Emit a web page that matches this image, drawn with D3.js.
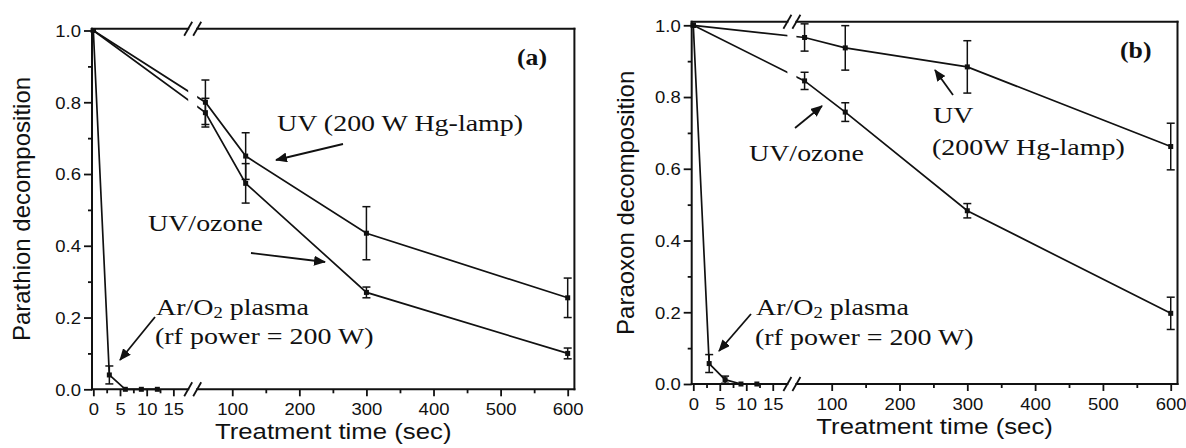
<!DOCTYPE html>
<html>
<head>
<meta charset="utf-8">
<script src="https://cdn.jsdelivr.net/npm/d3@7"></script>
<style>
  body { margin: 0; background: #fff; }
  svg { display: block; }
  .note { font-family: "Liberation Serif", "Times New Roman", serif; font-size: 24px; fill: #111; }
  .panel_tag { font-family: "Liberation Serif", "Times New Roman", serif; font-size: 23px; font-weight: bold; fill: #111; }
  .axis_title { font-family: "Liberation Sans", Arial, sans-serif; font-size: 23px; fill: #111; }
</style>
</head>
<body>
<script>

// values (decomposition ratio vs treatment time in sec)
var uv_times = [0, 60, 120, 300, 600]
var plasma_times = [0, 3, 6, 9, 12]

// panel (a): parathion
var uv_a = [1.0, 0.80, 0.65, 0.435, 0.255]
var uv_a_err = [0, 0.062, 0.065, 0.074, 0.055]
var ozone_a = [1.0, 0.771, 0.574, 0.27, 0.10]
var ozone_a_err = [0, 0.04, 0.055, 0.015, 0.015]
var plasma_a = [1.0, 0.04, 0, 0, 0]
var plasma_a_err = [0, 0.025, 0, 0, 0]

// panel (b): paraoxon
var uv_b = [1.0, 0.966, 0.937, 0.884, 0.662]
var uv_b_err = [0, 0.038, 0.062, 0.073, 0.065]
var ozone_b = [1.0, 0.845, 0.758, 0.483, 0.197]
var ozone_b_err = [0, 0.024, 0.026, 0.02, 0.045]
var plasma_b = [1.0, 0.057, 0.012, 0, 0]
var plasma_b_err = [0, 0.025, 0.01, 0, 0]

// ticks
var x_ticks = [0, 5, 10, 15, 100, 200, 300, 400, 500, 600]
var x_minor = [2.5, 7.5, 12.5, 150, 250, 350, 450, 550]
var y_ticks = [0, 0.2, 0.4, 0.6, 0.8, 1.0]
var y_minor = [0.1, 0.3, 0.5, 0.7, 0.9]

var svg_width = 1186
var svg_height = 448

// the source picture is a bit wider than tall, so text is stretched sideways
var stretch = 1.12
var note_stretch = 1.165

var svg = d3.select("body")
  .append("svg")
  .attr("width", svg_width)
  .attr("height", svg_height)

var defs = svg.append("defs")
defs.append("marker")
  .attr("id", "arrow")
  .attr("viewBox", "0 0 12 10")
  .attr("refX", 11)
  .attr("refY", 5)
  .attr("markerWidth", 12)
  .attr("markerHeight", 10)
  .attr("markerUnits", "userSpaceOnUse")
  .attr("orient", "auto")
  .append("path")
  .attr("d", "M0,0 L12,5 L0,10 z")
  .attr("fill", "#111")

/*
 * Draws one panel with a broken time axis: 0-17.5 s on the left piece,
 * 50-610 s on the right piece.
 */
function draw_panel(p){

  var x = d3.scaleLinear()
    .domain([p.x_start, 17.5, 50, 610])
    .range([p.left, p.seg1_end, p.seg2_start, p.right])

  var y = d3.scaleLinear()
    .domain([0, p.y_top])
    .range([p.bottom, p.top])

  var g = svg.append("g")

  var line = d3.line()
    .x(function(d) { return x(d[0]) })
    .y(function(d) { return y(d[1]) })

  // series
  p.series.forEach(function(s){
    var pts = s.times.map(function(t, i){ return [t, s.values[i], s.errors[i]] })

    g.append("path")
      .datum(pts)
      .attr("d", line)
      .attr("fill", "none")
      .attr("stroke", "#111")
      .attr("stroke-width", 1.7)

    // error bars
    var bars = pts.filter(function(d){ return d[2] > 0 })
    bars.forEach(function(d){
      var cx = x(d[0])
      var y1 = y(d[1] + d[2])
      var y2 = y(d[1] - d[2])
      g.append("line").attr("x1", cx).attr("x2", cx).attr("y1", y1).attr("y2", y2)
        .attr("stroke", "#111").attr("stroke-width", 1.5)
      g.append("line").attr("x1", cx - 4).attr("x2", cx + 4).attr("y1", y1).attr("y2", y1)
        .attr("stroke", "#111").attr("stroke-width", 1.5)
      g.append("line").attr("x1", cx - 4).attr("x2", cx + 4).attr("y1", y2).attr("y2", y2)
        .attr("stroke", "#111").attr("stroke-width", 1.5)
    })

    // square markers
    g.selectAll(null)
      .data(pts)
      .enter()
      .append("rect")
      .attr("x", function(d){ return x(d[0]) - 2.5 })
      .attr("y", function(d){ return y(d[1]) - 2.5 })
      .attr("width", 5)
      .attr("height", 5)
      .attr("fill", "#111")
  })

  // white gap where the lines cross the axis break
  var break_c = (x(17.5) + x(50)) / 2
  g.append("rect")
    .attr("x", break_c - 4.5)
    .attr("y", p.top + 2)
    .attr("width", 9)
    .attr("height", p.bottom - p.top - 4)
    .attr("fill", "#fff")

  // frame
  var frame = [
    [p.left, p.bottom, p.left, p.top],
    [p.right, p.bottom, p.right, p.top],
    [p.left, p.bottom, break_c - 4.5, p.bottom],
    [break_c + 4.5, p.bottom, p.right, p.bottom],
    [p.left, p.top, break_c - 4.5, p.top],
    [break_c + 4.5, p.top, p.right, p.top]
  ]
  frame.forEach(function(f){
    g.append("line")
      .attr("x1", f[0]).attr("y1", f[1]).attr("x2", f[2]).attr("y2", f[3])
      .attr("stroke", "#111").attr("stroke-width", 2)
      .attr("stroke-linecap", "square")
  })

  // break marks "//"
  ;[p.top, p.bottom].forEach(function(yy){
    [break_c - 4.5, break_c + 4.5].forEach(function(m){
      g.append("line")
        .attr("x1", m - 4).attr("y1", yy + 7).attr("x2", m + 4).attr("y2", yy - 7)
        .attr("stroke", "#111").attr("stroke-width", 1.8)
    })
  })

  // x axis
  var x_axis = g.append("g")
    .attr("transform", "translate(0," + p.bottom + ")")
    .call(d3.axisBottom(x).tickValues(x_ticks).tickSize(7).tickPadding(7).tickFormat(d3.format("d")))
  var x_axis_minor = g.append("g")
    .attr("transform", "translate(0," + p.bottom + ")")
    .call(d3.axisBottom(x).tickValues(x_minor).tickSize(4).tickFormat(""))

  // y axis
  var y_axis = g.append("g")
    .attr("transform", "translate(" + p.left + ",0)")
    .call(d3.axisLeft(y).tickValues(y_ticks).tickSize(8).tickFormat(d3.format(".1f")))
  var y_axis_minor = g.append("g")
    .attr("transform", "translate(" + p.left + ",0)")
    .call(d3.axisLeft(y).tickValues(y_minor).tickSize(4).tickFormat(""))

  ;[x_axis, x_axis_minor, y_axis, y_axis_minor].forEach(function(a){
    a.select(".domain").remove()
    a.selectAll(".tick line").attr("stroke", "#111").attr("stroke-width", 1.8)
    a.selectAll(".tick text")
      .attr("fill", "#111")
      .attr("font-family", "'Liberation Sans', Arial, sans-serif")
      .attr("font-size", 16.5)
  })
  x_axis.selectAll(".tick text")
    .attr("y", 0)
    .attr("dy", 0)
    .attr("transform", "translate(0,25.5) scale(" + stretch + ",1)")
  y_axis.selectAll(".tick text")
    .attr("x", 0)
    .attr("dy", "0.36em")
    .attr("transform", "translate(-11,0) scale(" + stretch + ",1)")

  // axis titles
  add_text(g, (p.left + p.right) / 2, p.bottom + 50, p.x_title, "axis_title", "middle", stretch)
  g.append("text")
    .attr("class", "axis_title")
    .attr("text-anchor", "middle")
    .attr("transform", "translate(" + p.y_title_x + "," + (p.top + p.bottom) / 2 + ") rotate(-90)")
    .style("font-size", "24px")
    .text(p.y_title)

  // annotations
  add_text(g, p.tag[0], p.tag[1], p.tag[2], "panel_tag", "start", stretch)
  p.notes.forEach(function(n){
    if (n[2].indexOf("O2") >= 0){
      add_sub_text(g, n[0], n[1], n[2])
    }
    else {
      add_text(g, n[0], n[1], n[2], "note", "start", note_stretch)
    }
  })
  p.arrows.forEach(function(a){
    g.append("line")
      .attr("x1", a[0]).attr("y1", a[1]).attr("x2", a[2]).attr("y2", a[3])
      .attr("stroke", "#111")
      .attr("stroke-width", 1.8)
      .attr("marker-end", "url(#arrow)")
  })
}

function add_text(g, x, y, str, cls, anchor, sx){
  return g.append("text")
    .attr("class", cls)
    .attr("text-anchor", anchor)
    .attr("transform", "translate(" + x + "," + y + ") scale(" + sx + ",1)")
    .text(str)
}

// "Ar/O2 plasma" with the 2 as subscript
function add_sub_text(g, x, y, str){
  var parts = str.split("O2")
  var t = g.append("text")
    .attr("class", "note")
    .attr("transform", "translate(" + x + "," + y + ") scale(" + note_stretch + ",1)")
  t.append("tspan").text(parts[0] + "O")
  t.append("tspan").attr("font-size", "16px").attr("dy", 3).text("2")
  t.append("tspan").attr("dy", -3).text(parts[1])
}

var panel_a = {
  left: 92, seg1_end: 186.7, seg2_start: 198.7, right: 574.4, x_start: -0.25,
  top: 28.7, bottom: 389.3, y_top: 1.005,
  x_title: "Treatment time (sec)",
  y_title: "Parathion decomposition",
  y_title_x: 30,
  series: [
    {times: uv_times, values: uv_a, errors: uv_a_err},
    {times: uv_times, values: ozone_a, errors: ozone_a_err},
    {times: plasma_times, values: plasma_a, errors: plasma_a_err}
  ],
  tag: [517, 65, "(a)"],
  notes: [
    [277, 131, "UV (200 W Hg-lamp)"],
    [148, 231, "UV/ozone"],
    [156, 315, "Ar/O2 plasma"],
    [155, 344, "(rf power = 200 W)"]
  ],
  arrows: [
    [343, 144, 276, 160],
    [251, 253, 325, 262],
    [155, 317, 120, 360]
  ]
}

var panel_b = {
  left: 691.7, seg1_end: 786, seg2_start: 797.8, right: 1177.5, x_start: -0.3,
  top: 21.7, bottom: 384, y_top: 1.01,
  x_title: "Treatment time (sec)",
  y_title: "Paraoxon decomposition",
  y_title_x: 634,
  series: [
    {times: uv_times, values: uv_b, errors: uv_b_err},
    {times: uv_times, values: ozone_b, errors: ozone_b_err},
    {times: plasma_times, values: plasma_b, errors: plasma_b_err}
  ],
  tag: [1120, 58, "(b)"],
  notes: [
    [933, 123, "UV"],
    [932, 155, "(200W Hg-lamp)"],
    [749, 161, "UV/ozone"],
    [756, 315, "Ar/O2 plasma"],
    [755, 345, "(rf power = 200 W)"]
  ],
  arrows: [
    [953, 95, 935, 70],
    [795, 128, 822, 106],
    [751, 314, 719, 351]
  ]
}

draw_panel(panel_a)
draw_panel(panel_b)

</script>
</body>
</html>
